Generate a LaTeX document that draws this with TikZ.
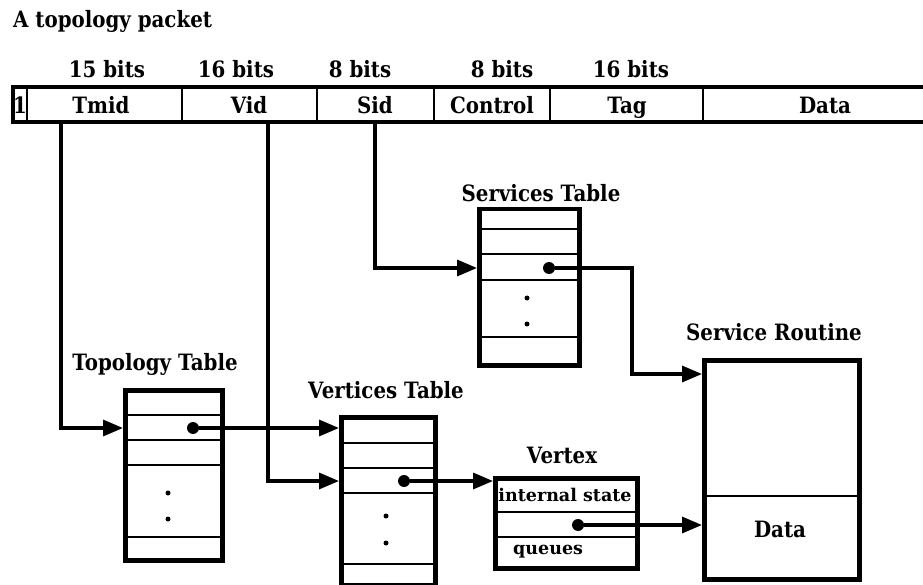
\documentclass[tikz,border=0pt]{standalone}
\usepackage{fontspec}
\setmainfont{DejaVu Serif}
\newfontfamily\lblfont{DejaVu Serif}[FakeStretch=0.88]
\usetikzlibrary{arrows.meta}
\begin{document}
\begin{tikzpicture}[x=1pt,y=-1pt,
  lbl/.style={font=\lblfont\fontsize{22.5}{26}\selectfont\bfseries, inner sep=0pt, anchor=base},
  small/.style={font=\fontsize{17.5}{20}\selectfont\bfseries, inner sep=0pt, anchor=base},
  tbl/.style={draw, line width=4.5pt, inner sep=0pt, anchor=north west},
  row/.style={line width=2.8pt},
  bar/.style={line width=4pt},
  divi/.style={line width=2.8pt},
  conn/.style={line width=3.3pt, -{Triangle[length=20pt,width=16pt]}},
  dotc/.style={circle, fill, inner sep=0pt, minimum size=12pt},
  sdot/.style={circle, fill, inner sep=0pt, minimum size=5pt}]
\useasboundingbox (0,0) rectangle (923,585);

% title
\node[lbl, anchor=base west] (title) at (13,28) {A topology packet};

% bit widths
\node[lbl] (b1) at (107,78) {15 bits};
\node[lbl] (b2) at (236,78) {16 bits};
\node[lbl] (b3) at (360,78) {8 bits};
\node[lbl] (b4) at (502,78) {8 bits};
\node[lbl] (b5) at (631,78) {16 bits};

% packet bar
\draw[bar] (923,87) -- (13,87) -- (13,122) -- (923,122);
\foreach \x in {27,182,317,434,550,703} \draw[divi] (\x,87) -- (\x,122);
\node[lbl] (one) at (20,114) {1};
\node[lbl] (tmid) at (101,114) {Tmid};
\node[lbl] (vid) at (249,114) {Vid};
\node[lbl] (sid) at (375,114) {Sid};
\node[lbl] (control) at (492,114) {Control};
\node[lbl] (tag) at (627,114) {Tag};
\node[lbl] (pdata) at (825,114) {Data};
\coordinate (ptm) at (61,122);
\coordinate (pvid) at (268,122);
\coordinate (psid) at (375,122);

% Services table
\node[lbl] (servl) at (541,202) {Services Table};
\node[tbl, minimum width=100pt, minimum height=156pt] (serv) at (477,207) {};
\foreach \y in {229,254,280,337} \draw[row] (477,\y) -- (577,\y);
\node[sdot] (sd1) at (527,298) {};
\node[sdot] (sd2) at (527,324) {};
\node[dotc] (sdt) at (549,268) {};

% Topology table
\node[lbl] (topol) at (155,370) {Topology Table};
\node[tbl, minimum width=97pt, minimum height=170pt] (topo) at (123,388) {};
\foreach \y in {415,440,465,537} \draw[row] (123,\y) -- (220,\y);
\node[sdot] (td1) at (168,493) {};
\node[sdot] (td2) at (168,519) {};
\node[dotc] (tdt) at (193,428) {};

% Vertices table
\node[lbl] (vertl) at (386,398) {Vertices Table};
\node[tbl, minimum width=94pt, minimum height=168pt] (vert) at (339,415) {};
\foreach \y in {443,468,493,564} \draw[row] (339,\y) -- (433,\y);
\node[sdot] (vd1) at (386,516) {};
\node[sdot] (vd2) at (386,543) {};
\node[dotc] (vdt) at (404,481) {};

% Vertex
\node[lbl] (vtxl) at (562,463) {Vertex};
\node[tbl, minimum width=142pt, minimum height=90pt] (vtx) at (493,476) {};
\foreach \y in {512,537} \draw[row] (493,\y) -- (635,\y);
\node[small] (istate) at (565,501) {internal state};
\node[small, anchor=base west] (queues) at (513,554) {queues};
\node[dotc] (xdt) at (578,525) {};

% Service routine
\node[lbl] (routl) at (774,340) {Service Routine};
\node[tbl, minimum width=155pt, minimum height=219pt] (rout) at (702,358) {};
\draw[row] (702,496) -- (857,496);
\node[lbl] (rdata) at (780,537) {Data};

% connectors
\draw[conn] (ptm) |- (topo.west |- tdt);
\draw[conn] (tdt) -- (vert.west |- tdt);
\draw[conn] (pvid) |- (vert.west |- vdt);
\draw[conn] (vdt) -- (vtx.west |- vdt);
\draw[conn] (psid) |- (serv.west |- sdt);
\draw[conn] (sdt) -| ([xshift=-70pt,yshift=-16pt]rout.north west) -- ([yshift=-16pt]rout.north west);
\draw[conn] (xdt) -- (rout.west |- xdt);
\end{tikzpicture}
\end{document}
